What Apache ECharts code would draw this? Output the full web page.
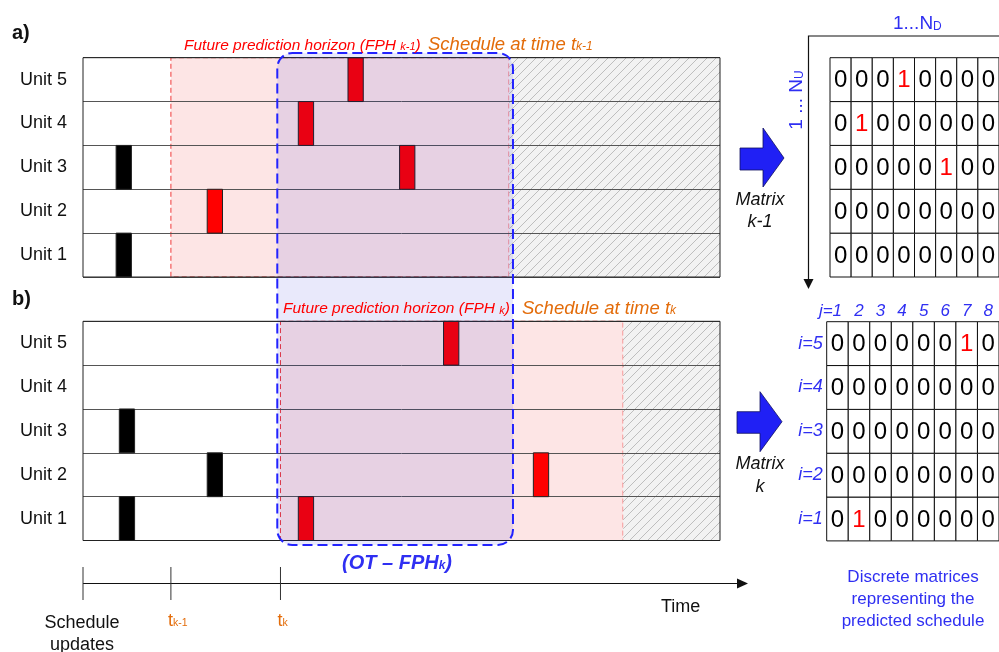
<!DOCTYPE html>
<html><head><meta charset="utf-8">
<script src="https://cdn.jsdelivr.net/npm/echarts@6/dist/echarts.min.js"></script>
<style>html,body{margin:0;padding:0;background:#fff}#c{width:999px;height:652px}</style>
</head><body><div id="c"></div>
<script>
// ---------- data ----------
const units = ['Unit 1','Unit 2','Unit 3','Unit 4','Unit 5'];
// panel a) schedule at time t(k-1): [start, unitIndex]
const aFixedBars = [[5.2,2],[5.2,0]];
const aPredBars  = [[19.5,1],[33.8,3],[41.6,4],[49.7,2]];
const aFPH   = [13.8, 66.9];
const aHatch = [66.9, 100];
// panel b) schedule at time t(k)
const bFixedBars = [[5.7,2],[5.7,0],[19.5,1]];
const bPredBars  = [[33.8,0],[56.6,4],[70.7,1]];
const bFPH   = [31.0, 84.8];
const bHatch = [84.8, 100];
const barWidth = 2.4;
const otWindow = [30.5, 67.5];
const updateTimes  = [0, 13.8, 31.0];
const updateLabels = ['{b|Schedule}\n{b|updates}', '{t|t}{s|k-1}', '{t|t}{s|k}'];
const timeEnd = 104.4;
const matrixCols = ['j=1','2','3','4','5','6','7','8'];
const matrixRows = ['i=1','i=2','i=3','i=4','i=5'];
const matrixA = [ // rows i=1..5
  [0,0,0,0,0,0,0,0],
  [0,0,0,0,0,0,0,0],
  [0,0,0,0,0,1,0,0],
  [0,1,0,0,0,0,0,0],
  [0,0,0,1,0,0,0,0]];
const matrixB = [
  [0,1,0,0,0,0,0,0],
  [0,0,0,0,0,0,0,0],
  [0,0,0,0,0,0,0,0],
  [0,0,0,0,0,0,0,0],
  [0,0,0,0,0,0,1,0]];

// ---------- style / layout ----------
const FONT = "'Liberation Sans', Arial, sans-serif";
const BLUE = '#2f2ff2', ORANGE = '#e36c0a', RED = '#ff0000';
const LY = {pl:83, pw:637, aTop:57.7, aH:219.3, bTop:321.3, bH:219.2, tlTop:567, tlH:33,
  mAl:830, mAt:57.7, mW:173.6, mBl:826.7, mBt:321.7, mBw:173.3};

function hatchCanvas(){
  const c=document.createElement('canvas'); c.width=9; c.height=9;
  const g=c.getContext('2d'); g.fillStyle='#f2f2f2'; g.fillRect(0,0,9,9);
  g.strokeStyle='#b8b8b8'; g.lineWidth=0.9; g.beginPath();
  g.moveTo(-1,10); g.lineTo(10,-1); g.moveTo(-1,1); g.lineTo(1,-1); g.moveTo(8,10); g.lineTo(10,8);
  g.stroke(); return c;
}
const HATCH = {image: hatchCanvas(), repeat:'repeat'};

function toCells(m){ const out=[]; m.forEach((row,i)=>row.forEach((v,j)=>out.push([j,i,v]))); return out; }

function regionSeries(grid, range, kind){
  return {type:'custom', xAxisIndex:grid, yAxisIndex:grid, z:1, silent:true, clip:false,
    data:[[range[0], range[1]]],
    renderItem:(p, api)=>{
      const cs=p.coordSys; const x0=api.coord([api.value(0),0])[0], x1=api.coord([api.value(1),0])[0];
      if(kind==='fph') return {type:'rect', shape:{x:x0,y:cs.y,width:x1-x0,height:cs.height},
        style:{fill:'#fde5e5', stroke:'#f03a3a', lineWidth:1, lineDash:[5,3]}};
      return {type:'rect', shape:{x:x0,y:cs.y,width:x1-x0,height:cs.height}, style:{fill:HATCH, stroke:null}};
    }};
}
function barSeries(grid, data, color){
  return {type:'custom', xAxisIndex:grid, yAxisIndex:grid, z:4, silent:true, data:data,
    renderItem:(p, api)=>{
      const s=api.value(0), u=api.value(1);
      const a=api.coord([s,u]), b=api.coord([s+barWidth,u]); const h=api.size([0,1])[1];
      return {type:'rect', shape:{x:a[0], y:a[1]-h/2, width:b[0]-a[0], height:h},
        style:{fill:color, stroke:'#222', lineWidth:1}};
    }};
}
function frameSeries(grid){
  return {type:'custom', xAxisIndex:grid, yAxisIndex:grid, z:5, silent:true, data:[[0]],
    renderItem:(p)=>{ const cs=p.coordSys;
      return {type:'rect', shape:{x:cs.x,y:cs.y,width:cs.width,height:cs.height}, style:{fill:null, stroke:'#222', lineWidth:1}}; }};
}
function matrixSeries(grid, cells){
  return {type:'custom', xAxisIndex:grid, yAxisIndex:grid, z:4, silent:true, data:cells, clip:false,
    renderItem:(p, api)=>{
      const c=api.coord([api.value(0), api.value(1)]); const sz=api.size([1,1]); const v=api.value(2);
      return {type:'group', children:[
        {type:'rect', shape:{x:c[0]-sz[0]/2, y:c[1]-sz[1]/2, width:sz[0], height:sz[1]}, style:{fill:'#fff', stroke:'#111', lineWidth:1}},
        {type:'text', style:{x:c[0], y:c[1]+1, text:String(v), fill: v===1?RED:'#000', font:'24px '+FONT, align:'center', verticalAlign:'middle'}}
      ]};
    }};
}

const catY = (grid, show) => ({type:'category', gridIndex:grid, data:units, z:3,
  axisLine:{show:false}, axisTick:{show:false},
  axisLabel:{show:show, color:'#111', fontSize:18, fontFamily:FONT, margin:16},
  splitLine:{show:true, lineStyle:{color:'#555', width:1}}});

const option = {
  animation:false, backgroundColor:'#fff',
  grid:[
    {left:LY.pl, top:LY.aTop, width:LY.pw, height:LY.aH},
    {left:LY.pl, top:LY.bTop, width:LY.pw, height:LY.bH},
    {left:LY.pl, top:LY.tlTop, width:LY.pw, height:LY.tlH},
    {left:LY.mAl, top:LY.mAt, width:LY.mW, height:LY.aH},
    {left:LY.mBl, top:LY.mBt, width:LY.mBw, height:LY.bH}
  ],
  xAxis:[
    {type:'value', gridIndex:0, min:0, max:100, show:false},
    {type:'value', gridIndex:1, min:0, max:100, show:false},
    {type:'value', gridIndex:2, min:0, max:100, show:false},
    {type:'category', gridIndex:3, data:matrixCols, show:false},
    {type:'category', gridIndex:4, data:matrixCols, position:'top',
      axisLine:{show:false}, axisTick:{show:false}, splitLine:{show:false},
      axisLabel:{interval:0, color:BLUE, fontSize:17, fontStyle:'italic', fontFamily:FONT, margin:2,
        formatter:v=> v==='j=1' ? '{f|'+v+'}' : v,
        rich:{f:{color:BLUE, fontSize:17, fontStyle:'italic', fontFamily:FONT, padding:[0,14,0,0]}}}}
  ],
  yAxis:[
    catY(0,true), catY(1,true),
    {type:'value', gridIndex:2, min:0, max:1, show:false},
    {type:'category', gridIndex:3, data:matrixRows, show:false},
    {type:'category', gridIndex:4, data:matrixRows, axisLine:{show:false}, axisTick:{show:false},
      axisLabel:{interval:0, color:BLUE, fontSize:18, fontStyle:'italic', fontFamily:FONT, margin:4}}
  ],
  series:[
    regionSeries(0, aFPH, 'fph'), regionSeries(0, aHatch, 'hatch'),
    regionSeries(1, bFPH, 'fph'), regionSeries(1, bHatch, 'hatch'),
    barSeries(0, aFixedBars, '#000'), barSeries(0, aPredBars, RED),
    barSeries(1, bFixedBars, '#000'), barSeries(1, bPredBars, RED),
    frameSeries(0), frameSeries(1),
    // OT - FPH_k window, spans both panels
    {type:'custom', xAxisIndex:0, yAxisIndex:0, z:6, silent:true, clip:false, data:[otWindow],
      renderItem:(p, api)=>{
        const cs=p.coordSys; const x0=api.coord([api.value(0),0])[0], x1=api.coord([api.value(1),0])[0];
        const y0=cs.y-4.7, y1=LY.bTop+LY.bH+4.5;
        return {type:'rect', shape:{x:x0,y:y0,width:x1-x0,height:y1-y0,r:15},
          style:{fill:'rgba(10,10,215,0.09)', stroke:'#2222ff', lineWidth:2, lineDash:[10,5]}};
      }},
    // timeline axis with arrow
    {type:'custom', xAxisIndex:2, yAxisIndex:2, z:4, silent:true, clip:false, data:[[0, timeEnd]],
      renderItem:(p, api)=>{
        const a=api.coord([api.value(0),0.5]), b=api.coord([api.value(1),0.5]);
        return {type:'group', children:[
          {type:'line', shape:{x1:a[0],y1:a[1],x2:b[0]-8,y2:b[1]}, style:{stroke:'#111', lineWidth:1.2}},
          {type:'polygon', shape:{points:[[b[0],b[1]],[b[0]-11,b[1]-5],[b[0]-11,b[1]+5]]}, style:{fill:'#111'}}
        ]};
      }},
    // schedule update ticks and labels
    {type:'custom', xAxisIndex:2, yAxisIndex:2, z:4, silent:true, clip:false,
      data: updateTimes.map((t,i)=>[t,i]),
      renderItem:(p, api)=>{
        const i=api.value(1); const top=api.coord([api.value(0),1]), bot=api.coord([api.value(0),0]);
        const first = i===0;
        return {type:'group', children:[
          {type:'line', shape:{x1:top[0],y1:top[1],x2:bot[0],y2:bot[1]}, style:{stroke:'#333', lineWidth:1}},
          {type:'text', style:{x: first? bot[0]-1 : bot[0]-3, y: first? bot[1]+12 : bot[1]+12,
            text:updateLabels[i], align: first?'center':'left', verticalAlign:'top',
            rich:{b:{fontSize:18, fontFamily:FONT, fill:'#111', lineHeight:22, align:'center'},
                  t:{fontSize:18, fontFamily:FONT, fill:ORANGE},
                  s:{fontSize:10.5, fontFamily:FONT, fill:ORANGE, padding:[5,0,0,0]}}}}
        ]};
      }},
    matrixSeries(3, toCells(matrixA)),
    matrixSeries(4, toCells(matrixB))
  ],
  graphic:[
    {type:'text', left:12, top:23, style:{text:'a)', font:'bold 20px '+FONT, fill:'#111'}},
    {type:'text', left:12, top:289, style:{text:'b)', font:'bold 20px '+FONT, fill:'#111'}},
    {type:'text', x:184, y:45.5, z:10, style:{text:'{n|Future prediction horizon (FPH }{s|k-1}{n|)}', verticalAlign:'middle',
      rich:{n:{fontSize:15.5, fontStyle:'italic', fontFamily:FONT, fill:RED}, s:{fontSize:11, fontStyle:'italic', fontFamily:FONT, fill:RED, padding:[3,0,0,0]}}}},
    {type:'text', x:428, y:44.5, z:10, style:{text:'{n|Schedule at time t}{s|k-1}', verticalAlign:'middle',
      rich:{n:{fontSize:18.5, fontStyle:'italic', fontFamily:FONT, fill:ORANGE}, s:{fontSize:12, fontStyle:'italic', fontFamily:FONT, fill:ORANGE, padding:[5,0,0,0]}}}},
    {type:'text', x:283, y:309, z:10, style:{text:'{n|Future prediction horizon (FPH }{s|k}{n|)}', verticalAlign:'middle',
      rich:{n:{fontSize:15.5, fontStyle:'italic', fontFamily:FONT, fill:RED}, s:{fontSize:11, fontStyle:'italic', fontFamily:FONT, fill:RED, padding:[3,0,0,0]}}}},
    {type:'text', x:522, y:308.5, z:10, style:{text:'{n|Schedule at time t}{s|k}', verticalAlign:'middle',
      rich:{n:{fontSize:18.5, fontStyle:'italic', fontFamily:FONT, fill:ORANGE}, s:{fontSize:12, fontStyle:'italic', fontFamily:FONT, fill:ORANGE, padding:[5,0,0,0]}}}},
    {type:'text', x:397, y:563, z:10, style:{text:'{n|(OT – FPH}{s|k}{n|)}', align:'center', verticalAlign:'middle',
      rich:{n:{fontSize:20, fontWeight:'bold', fontStyle:'italic', fontFamily:FONT, fill:BLUE}, s:{fontSize:12, fontWeight:'bold', fontStyle:'italic', fontFamily:FONT, fill:BLUE, padding:[6,0,0,0]}}}},
    {type:'text', x:661, y:607, style:{text:'Time', font:'18px '+FONT, fill:'#111', verticalAlign:'middle'}},
    // block arrows
    {type:'polygon', z:10, shape:{points:[[740,148],[763,148],[763,128],[784,158],[763,187],[763,170],[740,170]]},
      style:{fill:'#2020f5', stroke:'#101060', lineWidth:0.8}},
    {type:'polygon', z:10, shape:{points:[[737,411.7],[760,411.7],[760,391.7],[782,421.7],[760,451.7],[760,433.3],[737,433.3]]},
      style:{fill:'#2020f5', stroke:'#101060', lineWidth:0.8}},
    {type:'text', x:760, y:211, style:{text:'Matrix\nk-1', font:'italic 18px '+FONT, fill:'#111', align:'center', verticalAlign:'middle', lineHeight:22}},
    {type:'text', x:760, y:475, style:{text:'Matrix\nk', font:'italic 18px '+FONT, fill:'#111', align:'center', verticalAlign:'middle', lineHeight:23}},
    // matrix index axes
    {type:'polyline', shape:{points:[[1005,36],[808.5,36],[808.5,280]]}, style:{stroke:'#111', lineWidth:1.2, fill:null}},
    {type:'polygon', shape:{points:[[808.5,289],[803.5,279],[813.5,279]]}, style:{fill:'#111'}},
    {type:'text', x:893, y:24, style:{text:'{n|1...N}{s|D}', verticalAlign:'middle',
      rich:{n:{fontSize:19, fontFamily:FONT, fill:BLUE}, s:{fontSize:12, fontFamily:FONT, fill:BLUE, padding:[5,0,0,0]}}}},
    {type:'text', x:797, y:100, rotation:Math.PI/2, style:{text:'{n|1 ... N}{s|U}', align:'center', verticalAlign:'middle',
      rich:{n:{fontSize:19, fontFamily:FONT, fill:BLUE}, s:{fontSize:12, fontFamily:FONT, fill:BLUE, padding:[5,0,0,0]}}}},
    {type:'text', x:913, y:599, style:{text:'Discrete matrices\nrepresenting the\npredicted schedule', font:'17px '+FONT, fill:BLUE,
      align:'center', verticalAlign:'middle', lineHeight:22}}
  ]
};
const chart = echarts.init(document.getElementById('c'));
chart.setOption(option);
</script></body></html>
